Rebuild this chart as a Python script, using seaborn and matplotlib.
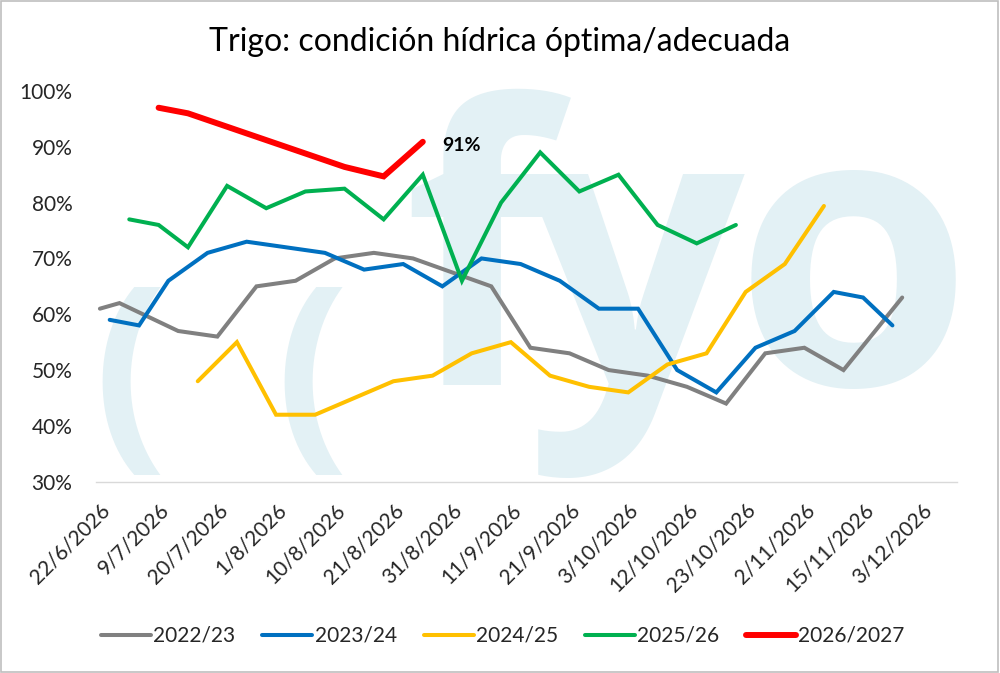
import matplotlib as mpl
mpl.use('Agg')
import matplotlib.pyplot as plt
import numpy as np
import pandas as pd
import seaborn as sns

# fechas de los ticks (cada 3 categorias)
tick_labels = ['22/6/2026', '9/7/2026', '20/7/2026', '1/8/2026', '10/8/2026',
               '21/8/2026', '31/8/2026', '11/9/2026', '21/9/2026', '3/10/2026',
               '12/10/2026', '23/10/2026', '2/11/2026', '15/11/2026', '3/12/2026']

x_2223 = [0, 1, 4, 6, 8, 10, 12, 14, 16, 20, 22, 24, 26, 28, 30, 32, 34, 36, 38, 41]
y_2223 = [61, 62, 57, 56, 65, 66, 70, 71, 70, 65, 54, 53, 50, 49, 47, 44, 53, 54, 50, 63]

x_2324 = [0.5, 2, 3.5, 5.5, 7.5, 9.5, 11.5, 13.5, 15.5, 17.5, 19.5, 21.5, 23.5, 25.5,
          27.5, 29.5, 31.5, 33.5, 35.5, 37.5, 39, 40.5]
y_2324 = [59, 58, 66, 71, 73, 72, 71, 68, 69, 65, 70, 69, 66, 61, 61, 50, 46, 54,
          57, 64, 63, 58]

x_2425 = [5, 7, 9, 11, 15, 17, 19, 21, 23, 25, 27, 29, 31, 33, 35, 37]
y_2425 = [48, 55, 42, 42, 48, 49, 53, 55, 49, 47, 46, 51, 53, 64, 69, 79.4]

x_2526 = [1.5, 3, 4.5, 6.5, 8.5, 10.5, 12.5, 14.5, 16.5, 18.5, 20.5, 22.5, 24.5,
          26.5, 28.5, 30.5, 32.5]
y_2526 = [77, 76, 72, 83, 79, 82, 82.5, 77, 85, 66, 80, 89, 82, 85, 76, 72.7, 76]

x_2627 = [3, 4.5, 12.5, 14.5, 16.5]
y_2627 = [97, 96, 86.4, 84.7, 90.9]

series = [('2022/23', x_2223, y_2223, '#808080', 2.9),
          ('2023/24', x_2324, y_2324, '#0070C0', 2.9),
          ('2024/25', x_2425, y_2425, '#FFC000', 2.9),
          ('2025/26', x_2526, y_2526, '#00B050', 2.9),
          ('2026/2027', x_2627, y_2627, '#FF0000', 4.3)]

sns.set_theme(style="white")
plt.rcParams['font.family'] = ['Lato', 'DejaVu Sans']

fig = plt.figure(figsize=(10, 6.73), dpi=100)
ax = fig.add_axes([0.096, 1 - 481.7 / 673, 0.861, (481.7 - 91) / 673])
ax.set_zorder(1)
ax.patch.set_alpha(0)

# marca de agua (fyo
wm = '#e3f1f5'
fig.text(130 / 1000, 1 - 385 / 673, '(', fontsize=155, color=wm, ha='center',
         va='center', fontweight='bold', family='Open Sans', zorder=0.5)
fig.text(312 / 1000, 1 - 385 / 673, '(', fontsize=155, color=wm, ha='center',
         va='center', fontweight='bold', family='Open Sans', zorder=0.5)
for ch, xc in [('f', 478), ('y', 635), ('o', 853)]:
    fig.text(xc / 1000, 1 - 385 / 673, ch, fontsize=278, color=wm, ha='center',
             va='baseline', fontweight='bold', family='Open Sans', zorder=0.5)

for name, xs, ys, col, lw in series:
    df = pd.DataFrame({'x': xs, 'y': ys})
    sns.lineplot(data=df, x='x', y='y', ax=ax, color=col, linewidth=lw,
                 label=name, solid_capstyle='round', solid_joinstyle='miter')

ax.annotate('91%', xy=(x_2627[-1], y_2627[-1]), xytext=(14, -3),
            textcoords='offset points', fontsize=14, fontweight='bold',
            va='center', ha='left', color='black')

ax.set_xlim(-0.2, 43.8)
ax.set_ylim(30, 100)
ax.set_xticks(np.arange(0, 43, 3))
ax.set_xticklabels(tick_labels, rotation=45, ha='right', va='top',
                   rotation_mode='anchor', fontsize=15, color='#262626')
ax.set_yticks(np.arange(30, 101, 10))
ax.set_yticklabels([f'{v}%' for v in range(30, 101, 10)], fontsize=15, color='#262626')
ax.tick_params(axis='x', length=0, pad=13)
ax.tick_params(axis='y', length=0, pad=17)
ax.set_xlabel('')
ax.set_ylabel('')
for s in ['top', 'right', 'left']:
    ax.spines[s].set_visible(False)
ax.spines['bottom'].set_color('#d9d9d9')
ax.spines['bottom'].set_linewidth(1)

ax.get_legend().remove()
handles, labels = ax.get_legend_handles_labels()
fig.legend(handles, labels, loc='center', bbox_to_anchor=(0.503, 1 - 636 / 673),
           ncol=5, frameon=False, fontsize=15, handlelength=2.4,
           handletextpad=0.1, columnspacing=1.3)

fig.text(0.5, 1 - 42 / 673, 'Trigo: condición hídrica óptima/adecuada',
         fontsize=23, ha='center', va='center', color='black')

fig.patches.append(plt.Rectangle((0.001, 0.002), 0.997, 0.996, transform=fig.transFigure,
                                 fill=False, edgecolor='#bfbfbf', linewidth=1.2))

fig.savefig('out.png', dpi=100)
